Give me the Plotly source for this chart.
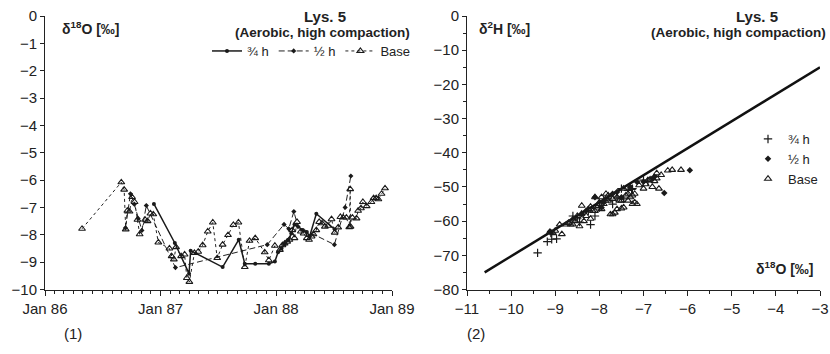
import plotly.graph_objects as go

# ---------------- Panel (1): time series of delta18O ----------------
base_dates = ["1986-04-28", "1986-08-30", "1986-09-08", "1986-09-13", "1986-09-18", "1986-09-25",
              "1986-10-03", "1986-10-11", "1986-10-20", "1986-10-27", "1986-11-13", "1986-11-21",
              "1986-11-30", "1986-12-09", "1986-12-25", "1987-01-29", "1987-02-05", "1987-02-12",
              "1987-02-19", "1987-03-07", "1987-03-18", "1987-03-25", "1987-04-02", "1987-04-18",
              "1987-04-30", "1987-05-14", "1987-05-30", "1987-06-15", "1987-06-29", "1987-07-16",
              "1987-08-02", "1987-08-19", "1987-09-04", "1987-09-24", "1987-10-09", "1987-10-27",
              "1987-11-26", "1987-12-09", "1987-12-28", "1988-01-13", "1988-01-21", "1988-01-28",
              "1988-02-05", "1988-02-12", "1988-02-21", "1988-02-28", "1988-03-07", "1988-03-19",
              "1988-03-28", "1988-04-07", "1988-04-14", "1988-04-22", "1988-04-28", "1988-05-07",
              "1988-05-16", "1988-05-25", "1988-06-03", "1988-06-13", "1988-06-24", "1988-07-04",
              "1988-07-15", "1988-07-22", "1988-07-31", "1988-08-10", "1988-08-19", "1988-08-22",
              "1988-08-23", "1988-08-29", "1988-09-11", "1988-09-16", "1988-09-25", "1988-10-01",
              "1988-10-13", "1988-10-28", "1988-11-04", "1988-11-12", "1988-11-19", "1988-11-29",
              "1988-12-10"]
base_o18 = [-7.78, -6.08, -6.35, -7.80, -7.12, -7.15,
            -6.62, -6.80, -7.45, -7.98, -7.45, -7.50,
            -7.22, -7.25, -8.28, -8.50, -8.78, -8.90,
            -8.45, -8.78, -8.72, -9.58, -9.72, -8.66,
            -8.62, -8.38, -7.88, -7.55, -8.85, -8.36,
            -8.01, -7.64, -7.55, -9.18, -8.22, -8.12,
            -8.64, -8.93, -8.40, -8.55, -8.38, -8.32,
            -8.25, -8.18, -7.83, -8.12, -7.53, -7.88,
            -7.95, -8.12, -8.18, -8.06, -7.98, -7.83,
            -7.53, -7.58, -7.70, -7.67, -7.43, -7.92,
            -7.73, -7.35, -7.37, -7.37, -7.72, -6.33,
            -7.70, -7.37, -7.40, -7.12, -7.03, -6.80,
            -6.95, -6.80, -6.66, -6.66, -6.70, -6.50,
            -6.30]

h34_dates = ["1986-12-11", "1987-02-15", "1987-04-01", "1987-04-06", "1987-07-16", "1987-09-05",
             "1987-09-24", "1987-10-27", "1987-12-09", "1987-12-28", "1988-01-07", "1988-01-18",
             "1988-01-28", "1988-02-09", "1988-02-18", "1988-02-28", "1988-03-25", "1988-04-07",
             "1988-04-16", "1988-05-07", "1988-07-04"]
h34_o18 = [-6.87, -8.30, -9.42, -8.58, -9.18, -8.18,
           -9.06, -9.06, -9.06, -8.98, -8.64, -8.50,
           -8.35, -8.18, -7.95, -7.62, -7.82, -7.90,
           -8.05, -7.23, -7.80]

h12_dates = ["1986-09-12", "1986-09-28", "1986-10-10", "1986-10-22", "1986-11-03", "1986-11-17",
             "1987-02-17", "1987-12-04", "1988-01-26", "1988-02-10", "1988-02-26", "1988-03-10",
             "1988-07-03", "1988-08-06", "1988-08-24"]
h12_o18 = [-7.75, -6.50, -6.88, -7.40, -7.84, -6.93,
           -9.20, -8.36, -7.62, -7.78, -7.15, -7.70,
           -8.36, -7.00, -5.85]

# ---------------- Panel (2): delta2H vs delta18O ----------------
s34_o18 = [-9.40, -9.18, -9.08, -8.97, -9.10, -8.60, -8.45, -8.20, -8.25, -8.00, -7.90,
           -7.80, -7.60, -7.50, -7.35, -7.25, -7.00, -7.70, -8.10, -8.50, -7.45, -6.90, -7.27]
s34_h2 = [-69.3, -66.0, -65.3, -65.2, -63.5, -58.5, -60.3, -61.0, -57.0, -56.0, -54.0,
          -53.5, -53.0, -50.5, -51.0, -50.5, -48.0, -55.0, -58.5, -59.3, -53.5, -48.5, -50.7]

s12_o18 = [-9.12, -8.10, -7.90, -7.70, -7.60, -7.30, -7.00, -6.75, -6.53, -5.95, -8.30,
           -7.95, -7.50, -8.40, -6.80, -7.15]
s12_h2 = [-63.0, -53.0, -54.5, -52.0, -51.5, -50.0, -48.5, -47.0, -51.8, -45.1, -57.0,
          -56.0, -53.0, -58.0, -47.5, -48.5]

sb_o18 = [-9.12, -9.05, -8.85, -8.75, -8.65, -8.60, -8.45, -8.40, -8.30, -8.20, -8.10,
          -8.00, -7.95, -7.85, -7.80, -7.75, -7.65, -7.60, -7.60, -7.50, -7.45, -7.40,
          -7.35, -7.30, -7.25, -7.20, -7.15, -7.10, -7.00, -6.90, -6.80, -6.75, -6.70,
          -6.65, -6.60, -6.35, -6.15, -8.55, -8.35, -8.25, -8.15, -8.05, -7.90, -7.70,
          -7.55, -7.95, -8.60, -8.70, -9.00, -7.70, -7.50, -7.20, -7.25, -6.95, -6.85,
          -6.70, -6.45, -7.45, -7.35, -7.80, -8.00, -8.10, -8.20, -8.40, -8.50, -8.90]
sb_h2 = [-63.2, -63.5, -63.8, -61.0, -61.0, -59.5, -61.5, -55.5, -58.5, -59.3, -53.0,
         -55.0, -56.5, -52.0, -54.0, -58.0, -57.5, -56.5, -53.0, -54.0, -56.0, -52.5,
         -54.0, -53.0, -52.5, -54.5, -55.0, -49.5, -50.5, -48.0, -50.0, -48.3, -47.5,
         -50.5, -46.5, -45.0, -45.0, -60.0, -60.0, -56.5, -57.0, -56.0, -55.0, -53.5,
         -54.0, -53.0, -61.0, -60.5, -62.8, -58.0, -56.3, -52.0, -55.0, -49.2, -47.8,
         -46.0, -45.2, -50.5, -52.0, -52.5, -54.5, -57.0, -55.8, -57.8, -58.5, -61.0]

mwl_o18 = [-10.6, -3.0]
mwl_h2 = [-75.0, -15.0]

W, H = 830, 354
FONT = "Liberation Sans, Arial, sans-serif"
INK = "#1a1a1a"


def px(x):
    return x / W


def py(y):
    return 1 - y / H


fig = go.Figure()

# left panel traces
fig.add_trace(go.Scatter(x=h34_dates, y=h34_o18, name="¾ h", mode="lines+markers",
                         line=dict(color=INK, width=1.5),
                         marker=dict(symbol="circle", size=4, color=INK),
                         xaxis="x", yaxis="y", legend="legend"))
fig.add_trace(go.Scatter(x=h12_dates, y=h12_o18, name="½ h", mode="lines+markers",
                         line=dict(color="#222", width=1, dash="6px,3px"),
                         marker=dict(symbol="diamond", size=4, color=INK),
                         xaxis="x", yaxis="y", legend="legend"))
fig.add_trace(go.Scatter(x=base_dates, y=base_o18, name="Base", mode="lines+markers",
                         line=dict(color="#222", width=1, dash="dot"),
                         marker=dict(symbol="triangle-up-open", size=6, color=INK,
                                     line=dict(width=1.1, color=INK)),
                         xaxis="x", yaxis="y", legend="legend"))

# right panel traces
fig.add_trace(go.Scatter(x=mwl_o18, y=mwl_h2, mode="lines", showlegend=False,
                         line=dict(color="#111", width=2.5), xaxis="x2", yaxis="y2"))
fig.add_trace(go.Scatter(x=s34_o18, y=s34_h2, name="¾ h", mode="markers",
                         marker=dict(symbol="cross-thin", size=6, color=INK,
                                     line=dict(width=1.2, color=INK)),
                         xaxis="x2", yaxis="y2", legend="legend2"))
fig.add_trace(go.Scatter(x=s12_o18, y=s12_h2, name="½ h", mode="markers",
                         marker=dict(symbol="diamond", size=5, color=INK),
                         xaxis="x2", yaxis="y2", legend="legend2"))
fig.add_trace(go.Scatter(x=sb_o18, y=sb_h2, name="Base", mode="markers",
                         marker=dict(symbol="triangle-up-open", size=6, color=INK,
                                     line=dict(width=1.1, color=INK)),
                         xaxis="x2", yaxis="y2", legend="legend2"))

axis_common = dict(showline=True, linecolor="#222", linewidth=1, ticks="outside",
                   tickcolor="#222", tickwidth=1, showgrid=False, zeroline=False,
                   ticklabeloverflow="allow",
                   tickfont=dict(family=FONT, size=15, color="#222"))

ydom = [py(289.5), py(16)]

fig.update_layout(
    width=W, height=H, margin=dict(l=0, r=0, t=0, b=0),
    paper_bgcolor="white", plot_bgcolor="white", template="none",
    font=dict(family=FONT, size=13, color="#222"),
    xaxis=dict(domain=[px(45), px(392)], type="date",
               range=["1986-01-01", "1989-01-01"], dtick="M12", tick0="1986-01-01",
               tickformat="%b %y", ticklen=5,
               minor=dict(dtick="M1", ticks="outside", ticklen=3, tickcolor="#222", showgrid=False),
               anchor="y", **axis_common),
    yaxis=dict(domain=ydom, range=[-10, 0], dtick=1, ticklen=4, ticklabelstandoff=0,
               anchor="x", **axis_common),
    xaxis2=dict(domain=[px(467), px(820)], range=[-11, -3], dtick=1, ticklen=5,
                minor=dict(dtick=0.5, ticks="outside", ticklen=3, tickcolor="#222", showgrid=False),
                anchor="y2", **axis_common),
    yaxis2=dict(domain=ydom, range=[-80, 0], dtick=10, ticklen=4, ticklabelstandoff=0,
                minor=dict(dtick=5, ticks="outside", ticklen=3, tickcolor="#222", showgrid=False),
                anchor="x2", **axis_common),
    legend=dict(orientation="h", x=px(416), y=py(51), xanchor="right", yanchor="middle",
                font=dict(family=FONT, size=13, color="#222"), bgcolor="rgba(0,0,0,0)",
                itemwidth=30, tracegroupgap=0),
    legend2=dict(orientation="v", x=px(748), y=py(124), xanchor="left", yanchor="top",
                 font=dict(family=FONT, size=13, color="#222"), bgcolor="rgba(0,0,0,0)",
                 itemwidth=30, tracegroupgap=0),
    showlegend=True,
)

ann = [
    dict(x=px(60), y=py(28), text="<b>δ<sup>18</sup>O [‰]</b>", xanchor="left", size=14),
    dict(x=px(325), y=py(16), text="<b>Lys. 5</b>", xanchor="center", size=15),
    dict(x=px(412), y=py(33), text="<b>(Aerobic, high compaction)</b>", xanchor="right", size=13.5),
    dict(x=px(477), y=py(28), text="<b>δ<sup>2</sup>H [‰]</b>", xanchor="left", size=14),
    dict(x=px(757), y=py(16), text="<b>Lys. 5</b>", xanchor="center", size=15),
    dict(x=px(828), y=py(33), text="<b>(Aerobic, high compaction)</b>", xanchor="right", size=13.5),
    dict(x=px(816), y=py(268), text="<b>δ<sup>18</sup>O [‰]</b>", xanchor="right", size=14),
    dict(x=px(62), y=py(333), text="(1)", xanchor="left", size=15),
    dict(x=px(465), y=py(333), text="(2)", xanchor="left", size=15),
]
for a in ann:
    fig.add_annotation(x=a["x"], y=a["y"], xref="paper", yref="paper", text=a["text"],
                       xanchor=a["xanchor"], yanchor="middle", showarrow=False,
                       font=dict(family=FONT, size=a["size"], color="#222"))

fig.write_html("out.html")
